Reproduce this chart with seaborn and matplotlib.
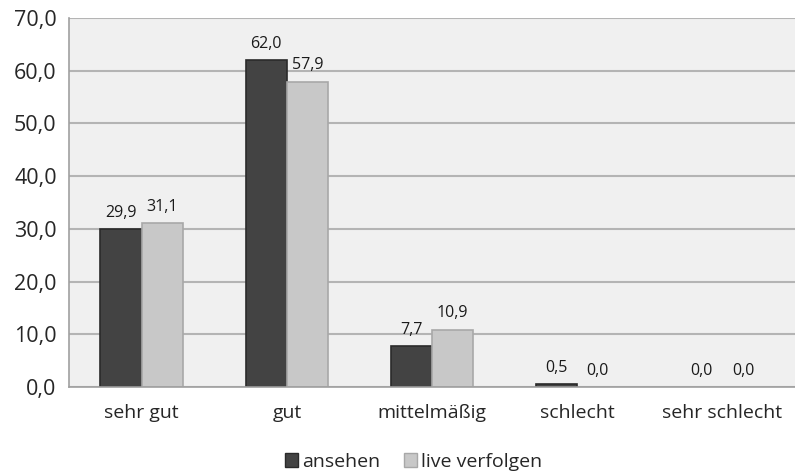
import pandas as pd
import numpy as np
import seaborn as sns
import matplotlib.pyplot as plt

#--- data ---
categories = ["sehr gut", "gut", "mittelmäßig", "schlecht", "sehr schlecht"]
ansehen = [29.9, 62.0, 7.7, 0.5, 0.0]
live_verfolgen = [31.1, 57.9, 10.9, 0.0, 0.0]
series_names = ["ansehen", "live verfolgen"]

data = pd.DataFrame({
    "Kategorie": categories * 2,
    "Wert": ansehen + live_verfolgen,
    "Serie": [series_names[0]] * len(categories) + [series_names[1]] * len(categories),
})

sns.set_style("white")
plt.rcParams['font.family'] = ['Open Sans', 'DejaVu Sans']

fig = plt.figure(figsize=(7.95, 4.72), dpi=100)
ax = fig.add_axes([0.087, 0.18, 0.913, 0.782])
ax.set_facecolor("#f0f0f0")

pal = {"ansehen": "#434343", "live verfolgen": "#c8c8c8"}
sns.barplot(data=data, x="Kategorie", y="Wert", hue="Serie", palette=pal,
            width=0.57, saturation=1, ax=ax, legend=False)

edges = ["#2a2a2a", "#a8a8a8"]
for cont, ec in zip(ax.containers, edges):
    for p, v in zip(cont, cont.datavalues):
        p.set_edgecolor(ec)
        p.set_linewidth(1.2 if v > 0 else 0)
    ax.bar_label(cont, labels=[f"{v:.1f}".replace(".", ",") for v in cont.datavalues],
                 padding=6, fontsize=11.5, color="#1a1a1a")

#--- axes ---
ax.set_ylim(0, 70)
ax.set_xlim(-0.5, len(categories) - 0.5)
ax.set_yticks(np.arange(0, 71, 10))
ax.set_yticklabels([f"{v:.1f}".replace(".", ",") for v in np.arange(0, 71, 10)], fontsize=15.5)
ax.yaxis.grid(True, color="#b4b4b4", linewidth=1.5)
ax.set_axisbelow(True)
ax.set_xlabel("")
ax.set_ylabel("")
ax.tick_params(axis="x", length=0, labelsize=14, pad=12)
ax.tick_params(axis="y", length=6, color="#a0a0a0", width=1.2, pad=3)
ax.set_xticks(np.arange(-0.5, len(categories), 1), minor=True)
ax.tick_params(axis="x", which="minor", length=6, color="#a0a0a0", width=1.2)
for s in ["top", "right"]:
    ax.spines[s].set_visible(False)
for s in ["left", "bottom"]:
    ax.spines[s].set_color("#a0a0a0")
    ax.spines[s].set_linewidth(1.2)

#--- legend ---
handles = [plt.Rectangle((0, 0), 1, 1, facecolor=pal[n], edgecolor=e) for n, e in zip(series_names, edges)]
fig.legend(handles, series_names, loc="lower center", ncol=2, frameon=False,
           fontsize=14, handlelength=0.7, handleheight=0.7, handletextpad=0.2,
           columnspacing=1.2, bbox_to_anchor=(0.52, -0.035))

fig.savefig("out.png", dpi=100)
